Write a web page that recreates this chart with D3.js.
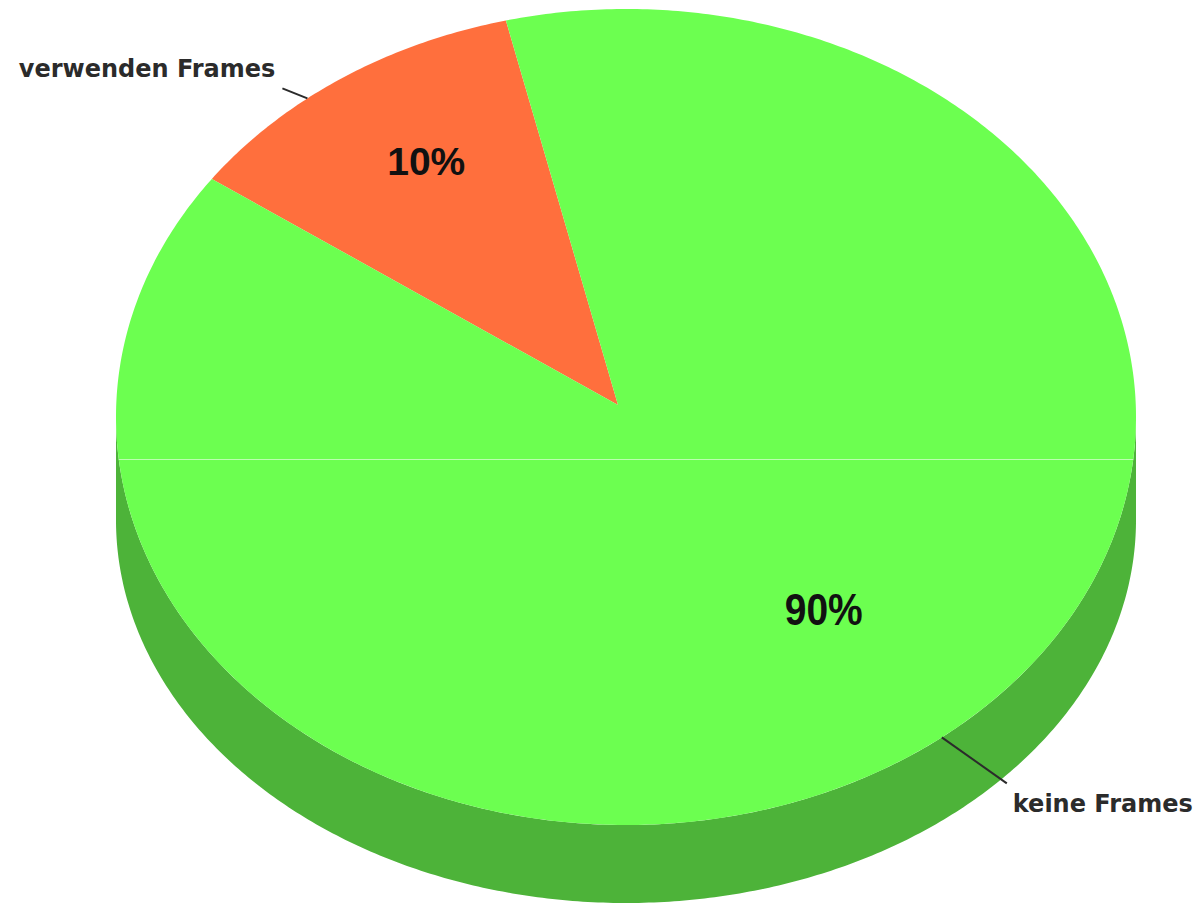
<html>
<head>
<meta charset="utf-8">
<title>Frames</title>
<script src="https://d3js.org/d3.v7.min.js"></script>
</head>
<style>
  body { margin: 0; background: #fff; }
  .pct {
    font-family: "Liberation Sans", Arial, sans-serif;
    font-weight: bold;
    fill: #111;
  }
  .outer {
    font-family: "DejaVu Sans", sans-serif;
    font-weight: bold;
    font-size: 24px;
    fill: #2b2b2b;
  }
  .leader {
    stroke: #2b2b2b;
    stroke-width: 2;
    fill: none;
  }
  .seam {
    stroke: #fff;
    stroke-opacity: 0.55;
    stroke-width: 1;
  }
</style>
<body>
<svg id="pie" width="1194" height="905"></svg>
<script>
// data (slice sizes from the drawn wedge, labels as printed)
const categories = ["verwenden Frames", "keine Frames"];
const values = [11.3, 88.7];
const percentLabels = ["10%", "90%"];
const topColors = ["#ff6f3d", "#6cff50"];
const sideColors = ["#c8552f", "#4db339"];

const svg = d3.select("svg#pie");
const width = +svg.attr("width");
const height = +svg.attr("height");

// ellipse of the top face, and the lower rim of the wall
let cx = 626, cy = 417, rx = 510, ry = 408;
let rimCy = 520, rimRy = 383;
let apex = {x: 618, y: 405};
let seamY = 459;
const startAngle = -54.3 * Math.PI / 180;

const xScale = d3.scaleLinear().domain([-1, 1]).range([cx - rx, cx + rx]);
const yScale = d3.scaleLinear().domain([-1, 1]).range([cy - ry, cy + ry]);
const yRim = d3.scaleLinear().domain([-1, 1]).range([rimCy - rimRy, rimCy + rimRy]);

// per-slice label placement (angle shift in degrees, radius fraction, leader vector, text offset)
let layout = [
  {labelShift: 2, labelR: 0.74, stretch: 1.0, size: 39, leaderShift: -4.7, leader: [-25, -10], text: [-7, -11], anchor: "end"},
  {labelShift: -5.5, labelR: 0.61, stretch: 1.15, size: 39, leaderShift: -4.3, leader: [65, 46], text: [6, 29], anchor: "start"}
];

const pie = d3.pie().sort(null).value(d => d)
  .startAngle(startAngle).endAngle(startAngle + 2 * Math.PI);
const arcs = pie(values);

function pt(theta, k, ys) {
  return [xScale(Math.sin(theta) * k), (ys || yScale)(-Math.cos(theta) * k)];
}
function samples(a0, a1, ys) {
  let n = Math.max(2, Math.ceil(Math.abs(a1 - a0) / 0.01));
  return d3.range(n + 1).map(i => pt(a0 + (a1 - a0) * i / n, 1, ys));
}
const line = d3.line().x(d => d[0]).y(d => d[1]);

// side walls (only the front half is visible)
const sides = svg.append("g");
arcs.forEach((a, i) => {
  [-1, 0, 1].forEach(k => {
    let a0 = Math.max(a.startAngle + 2 * Math.PI * k, Math.PI / 2);
    let a1 = Math.min(a.endAngle + 2 * Math.PI * k, 3 * Math.PI / 2);
    if (a1 <= a0) return;
    let ptsTop = samples(a0, a1, yScale);
    let ptsBot = samples(a1, a0, yRim);
    sides.append("path")
      .attr("d", line(ptsTop.concat(ptsBot)) + "Z")
      .attr("fill", sideColors[i]);
  });
});

// top face slices
const tops = svg.append("g");
tops.selectAll("path")
  .data(arcs)
  .enter()
  .append("path")
  .attr("d", a => line([[apex.x, apex.y]].concat(samples(a.startAngle, a.endAngle, yScale))) + "Z")
  .attr("fill", (a, i) => topColors[i]);

// faint seam across the face
let half = rx * Math.sqrt(1 - Math.pow((seamY - cy) / ry, 2));
svg.append("line")
  .attr("class", "seam")
  .attr("x1", cx - half).attr("x2", cx + half)
  .attr("y1", seamY + 0.5).attr("y2", seamY + 0.5);

// percent labels
arcs.forEach((a, i) => {
  let L = layout[i];
  let mid = (a.startAngle + a.endAngle) / 2 + L.labelShift * Math.PI / 180;
  let p = pt(mid, L.labelR);
  svg.append("text")
    .attr("class", "pct")
    .attr("text-anchor", "middle")
    .attr("transform", "translate(" + p[0] + "," + p[1] + ") scale(1," + L.stretch + ")")
    .attr("dy", "0.36em")
    .style("font-size", L.size + "px")
    .text(percentLabels[i]);
});

// outside labels with leader lines
arcs.forEach((a, i) => {
  let L = layout[i];
  let mid = (a.startAngle + a.endAngle) / 2 + L.leaderShift * Math.PI / 180;
  let p = pt(mid, 1);
  let q = [p[0] + L.leader[0], p[1] + L.leader[1]];
  svg.append("path")
    .attr("class", "leader")
    .attr("d", line([p, q]));
  svg.append("text")
    .attr("class", "outer")
    .attr("text-anchor", L.anchor)
    .attr("x", q[0] + L.text[0])
    .attr("y", q[1] + L.text[1])
    .text(categories[i]);
});
</script>
</body>
</html>
